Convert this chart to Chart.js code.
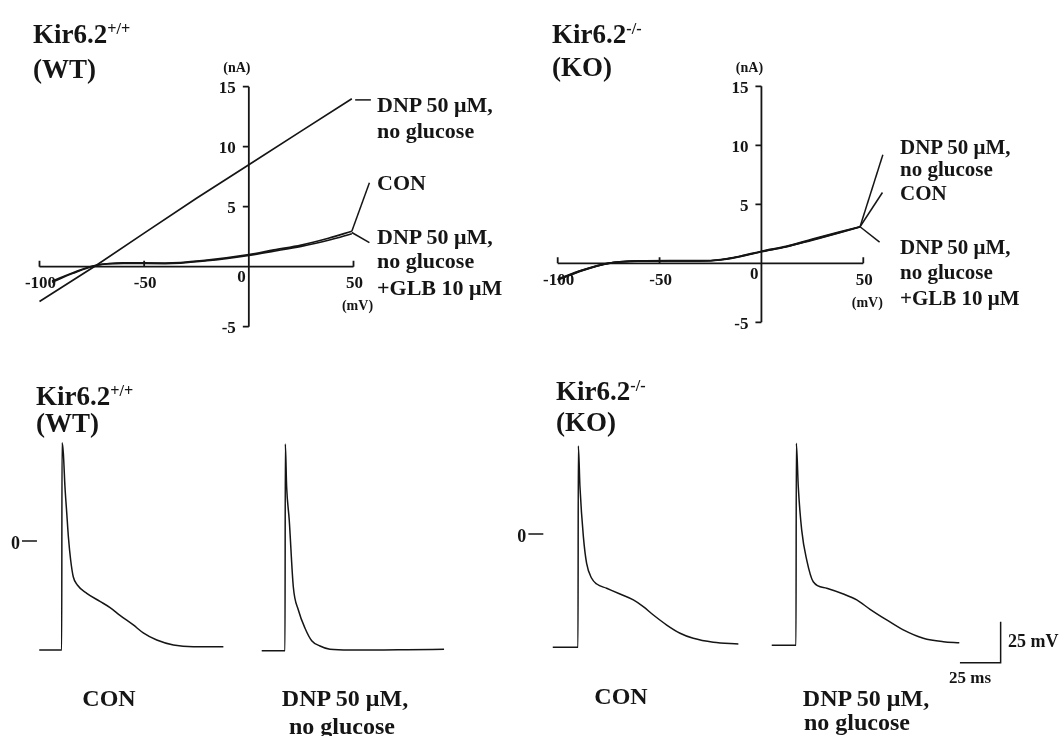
<!DOCTYPE html>
<html>
<head>
<meta charset="utf-8">
<script src="https://cdn.jsdelivr.net/npm/chart.js@4.4.1/dist/chart.umd.min.js"></script>
<style>
  body { margin: 0; background: #fff; }
  #fig { position: relative; width: 1064px; height: 736px; overflow: hidden; background: #fff; }
  #fig canvas { position: absolute; left: 0; top: 0; }
  .lbl {
    position: absolute; white-space: nowrap; line-height: 1; color: #151515;
    font-family: "Liberation Serif", "DejaVu Serif", serif; font-weight: bold;
    transform: translateY(-50%);
  }
  .lbl.mid { transform: translate(-50%, -50%); }
  .sup { font-size: 0.6em; vertical-align: 0.55em; line-height: 0; }
</style>
</head>
<body>
<div id="fig">
  <canvas id="iv_wt" width="1064" height="736"></canvas>
  <canvas id="iv_ko" width="1064" height="736"></canvas>
  <canvas id="ap_wt_con" width="1064" height="736"></canvas>
  <canvas id="ap_wt_dnp" width="1064" height="736"></canvas>
  <canvas id="ap_ko_con" width="1064" height="736"></canvas>
  <canvas id="ap_ko_dnp" width="1064" height="736"></canvas>
</div>
<script>
  // ---- I-V curves (membrane potential in mV, current in nA) ----
  const ivVoltsWtDnp = [-100, -73, -50, -25, 0, 25, 49.2]
  const ivWtDnp = [-2.9, 0.1, 2.8, 5.7, 8.5, 11.3, 14.0]

  const ivVoltsWt = [-94, -84, -73, -60, -40, -20, 0, 12, 25, 38, 49.2]
  const ivWtCon = [-1.3, -0.55, 0.1, 0.33, 0.3, 0.55, 1.0, 1.4, 1.8, 2.37, 2.95]
  const ivWtGlb = [-1.2, -0.5, 0.12, 0.28, 0.25, 0.5, 0.95, 1.3, 1.7, 2.2, 2.75]

  const ivVoltsKo = [-100, -88, -75, -60, -45, -30, -20, -10, 0, 12, 25, 38, 48.4]
  const ivKoCon = [-1.4, -0.6, 0, 0.18, 0.2, 0.2, 0.3, 0.6, 1.0, 1.4, 2.0, 2.6, 3.1]
  const ivKoDnp = [-1.4, -0.62, 0, 0.2, 0.22, 0.22, 0.32, 0.62, 1.02, 1.43, 2.05, 2.65, 3.1]
  const ivKoGlb = [-1.35, -0.58, 0.02, 0.18, 0.2, 0.2, 0.28, 0.58, 0.98, 1.38, 1.97, 2.57, 3.08]

  // label leader lines, [mV, nA]
  const leadWtDnp = [[50.8, 13.9], [58.3, 13.9]]
  const leadWtCon = [[49.2, 2.95], [57.6, 7.0]]
  const leadWtGlb = [[49.2, 2.85], [57.6, 2.0]]
  const leadKoDnp = [[48.4, 3.1], [59.6, 9.2]]
  const leadKoCon = [[48.4, 3.1], [59.4, 6.0]]
  const leadKoGlb = [[48.4, 3.1], [58.0, 1.8]]

  const ivXTicks = [-100, -50, 0, 50]
  const ivYTicks = [15, 10, 5, 0, -5]

  // ---- action potentials (time in ms from upstroke, voltage in mV) ----
  const wtConMs = [-13.8, 0, 0.2, 1.0, 2.0, 3.1, 4.1, 5.5, 7.1, 9.6, 15.4, 23.5, 29.7, 35.8, 44.0, 50.1, 58.4, 68.6, 80.8, 99.3]
  const wtConMv = [-66.5, -66.5, 59.9, 53.7, 33.1, 17.1, 2.6, -11.6, -21.8, -26.8, -31.9, -36.8, -40.6, -45.3, -51.2, -56.0, -60.4, -63.4, -64.5, -64.5]

  const wtDnpMs = [-14.3, 0, 0.2, 1.0, 2.6, 5.1, 8.2, 12.3, 16.4, 21.5, 27.6, 40, 54.2, 75, 97.7]
  const wtDnpMv = [-66.9, -66.9, 59.1, 33.1, 12.8, -27.9, -42.1, -53.2, -60.8, -64.0, -66.0, -66.5, -66.5, -66.3, -66.0]

  const koConMs = [-15.5, 0, 0.2, 1.2, 3.3, 5.3, 8.4, 11.5, 17.6, 25.8, 34.0, 40.1, 46.3, 54.5, 62.7, 70.8, 83.1, 98.5]
  const koConMv = [-69.1, -69.1, 53.7, 28.8, -1.6, -17.9, -27.0, -30.5, -33.1, -36.6, -40.2, -44.3, -49.4, -55.5, -60.5, -63.6, -66.0, -67.1]

  const koDnpMs = [-14.9, 0, 0.2, 1.4, 3.5, 6.6, 10.6, 18.9, 29.1, 37.3, 45.5, 55.7, 65.9, 78.2, 90.5, 100.3]
  const koDnpMv = [-67.9, -67.9, 55.3, 28.8, 2.4, -15.9, -29.1, -33.1, -36.6, -40.2, -45.9, -52.4, -58.5, -63.6, -65.7, -66.3]

  // 25 ms / 25 mV scale bar
  const scaleBarMs = [100.7, 125.7, 125.7]
  const scaleBarMv = [-78.5, -78.5, -53.5]

  const W = 1064, H = 736
  const INK = '#151515'
  const SERIF = '"Liberation Serif", "DejaVu Serif", serif'

  const zip = (xs, ys) => xs.map((x, i) => ({x: x, y: ys[i]}))
  const pairs = arr => arr.map(p => ({x: p[0], y: p[1]}))

  const curve = (data, width) => ({
    data: data, borderColor: INK, borderWidth: width || 1.7,
    pointRadius: 0, cubicInterpolationMode: 'monotone', fill: false, clip: false
  })
  const straight = (data, width) => ({
    data: data, borderColor: INK, borderWidth: width || 1.5,
    pointRadius: 0, tension: 0, fill: false, clip: false
  })

  // axes crossing at the origin, drawn from the chart's own scales
  const crossAxes = {
    id: 'crossAxes',
    beforeDatasetsDraw(chart, args, opts) {
      const {ctx} = chart
      const xs = chart.scales.x, ys = chart.scales.y
      const x0 = xs.getPixelForValue(0), y0 = ys.getPixelForValue(0)
      ctx.save()
      ctx.strokeStyle = INK
      ctx.lineWidth = 1.8
      ctx.beginPath()
      ctx.moveTo(xs.left, y0); ctx.lineTo(xs.right, y0)
      ctx.moveTo(x0, ys.top); ctx.lineTo(x0, ys.bottom)
      opts.xTicks.forEach(v => {
        const px = xs.getPixelForValue(v)
        ctx.moveTo(px, y0); ctx.lineTo(px, y0 - 6)
      })
      opts.yTicks.forEach(v => {
        const py = ys.getPixelForValue(v)
        ctx.moveTo(x0, py); ctx.lineTo(x0 - 6, py)
      })
      ctx.stroke()

      ctx.fillStyle = INK
      ctx.textBaseline = 'middle'
      ctx.font = 'bold 17px ' + SERIF
      ctx.textAlign = 'center'
      opts.xTicks.forEach(v => {
        if (v === 0) return
        ctx.fillText(String(v), xs.getPixelForValue(v) + 1, y0 + 17)
      })
      ctx.textAlign = 'right'
      ctx.fillText('0', x0 - 3, y0 + 11)
      opts.yTicks.forEach(v => {
        if (v === 0) return
        ctx.fillText(String(v), x0 - 13, ys.getPixelForValue(v) + 2)
      })
      ctx.textAlign = 'center'
      ctx.font = 'bold 14px ' + SERIF
      ctx.fillText('(nA)', x0 - 12, ys.top - 18)
      ctx.fillText('(mV)', xs.right + 4, y0 + 40)
      ctx.restore()
    }
  }

  // "0 —" marker beside the action potentials
  const zeroMark = {
    id: 'zeroMark',
    afterDraw(chart, args, opts) {
      const {ctx} = chart
      const xs = chart.scales.x, ys = chart.scales.y
      const py = ys.getPixelForValue(0)
      const x1 = xs.getPixelForValue(opts.from), x2 = xs.getPixelForValue(opts.to)
      ctx.save()
      ctx.strokeStyle = INK
      ctx.lineWidth = 1.5
      ctx.beginPath(); ctx.moveTo(x1, py); ctx.lineTo(x2, py); ctx.stroke()
      ctx.fillStyle = INK
      ctx.font = 'bold 18px ' + SERIF
      ctx.textAlign = 'right'
      ctx.textBaseline = 'middle'
      ctx.fillText('0', x1 - 2, py + 3)
      ctx.restore()
    }
  }

  const hiddenScale = (min, max) => ({type: 'linear', min: min, max: max, display: false})

  const ivChart = (canvasId, area, datasets) => new Chart(document.getElementById(canvasId), {
    type: 'line',
    data: {datasets: datasets},
    options: {
      responsive: false,
      animation: false,
      layout: {padding: {left: area[0], right: W - area[1], top: area[2], bottom: H - area[3]}},
      scales: {x: hiddenScale(-100, 50), y: hiddenScale(-5, 15)},
      plugins: {
        legend: {display: false},
        tooltip: {enabled: false},
        crossAxes: {xTicks: ivXTicks, yTicks: ivYTicks}
      }
    },
    plugins: [crossAxes]
  })

  // all traces share one calibration: 1.628 px per ms, 1.64 px per mV
  const PX_MS = 1.628, PX_MV = 1.64
  const AP_MS = [-30, 130], AP_MV = [-85, 70]

  const apChart = (canvasId, origin, datasets, zero) => new Chart(document.getElementById(canvasId), {
    type: 'line',
    data: {datasets: datasets},
    options: {
      responsive: false,
      animation: false,
      layout: {padding: {
        left: origin[0] + AP_MS[0] * PX_MS,
        right: W - (origin[0] + AP_MS[1] * PX_MS),
        top: origin[1] - AP_MV[1] * PX_MV,
        bottom: H - (origin[1] - AP_MV[0] * PX_MV)
      }},
      scales: {x: hiddenScale(AP_MS[0], AP_MS[1]), y: hiddenScale(AP_MV[0], AP_MV[1])},
      plugins: {legend: {display: false}, tooltip: {enabled: false}, zeroMark: zero}
    },
    plugins: [zeroMark]
  })

  ivChart('iv_wt', [39.5, 353.5, 86.7, 326.7], [
    straight(zip(ivVoltsWtDnp, ivWtDnp), 1.7),
    curve(zip(ivVoltsWt, ivWtCon)),
    curve(zip(ivVoltsWt, ivWtGlb)),
    straight(pairs(leadWtDnp)),
    straight(pairs(leadWtCon)),
    straight(pairs(leadWtGlb))
  ])

  ivChart('iv_ko', [557.7, 863.3, 86.3, 322.3], [
    curve(zip(ivVoltsKo, ivKoCon)),
    curve(zip(ivVoltsKo, ivKoDnp)),
    curve(zip(ivVoltsKo, ivKoGlb)),
    straight(pairs(leadKoDnp)),
    straight(pairs(leadKoCon)),
    straight(pairs(leadKoGlb))
  ])

  apChart('ap_wt_con', [61.7, 541], [curve(zip(wtConMs, wtConMv), 1.5)], {from: -24.4, to: -15.2})
  apChart('ap_wt_dnp', [285, 541], [curve(zip(wtDnpMs, wtDnpMv), 1.5)], false)
  apChart('ap_ko_con', [578, 534], [curve(zip(koConMs, koConMv), 1.5)], {from: -30.5, to: -21.3})
  apChart('ap_ko_dnp', [796, 534], [
    curve(zip(koDnpMs, koDnpMv), 1.5),
    straight(zip(scaleBarMs, scaleBarMv))
  ], false)

  // ---- text ----
  const labels = [
    ['Kir6.2<span class="sup">+/+</span>', 33, 34, 27],
    ['(WT)', 33, 69, 27],
    ['Kir6.2<span class="sup">-/-</span>', 552, 34, 27],
    ['(KO)', 552, 67, 27],
    ['DNP 50 μM,', 377, 105, 22],
    ['no glucose', 377, 131, 22],
    ['CON', 377, 182.5, 22],
    ['DNP 50 μM,', 377, 237, 22],
    ['no glucose', 377, 261, 22],
    ['+GLB 10 μM', 377, 288, 22],
    ['DNP 50 μM,', 900, 147, 21],
    ['no glucose', 900, 169, 21],
    ['CON', 900, 193, 21],
    ['DNP 50 μM,', 900, 247, 21],
    ['no glucose', 900, 272, 21],
    ['+GLB 10 μM', 900, 298, 21],
    ['Kir6.2<span class="sup">+/+</span>', 36, 396, 27],
    ['(WT)', 36, 423, 27],
    ['Kir6.2<span class="sup">-/-</span>', 556, 391, 27],
    ['(KO)', 556, 422, 27],
    ['CON', 109, 698, 24, 'mid'],
    ['DNP 50 μM,', 345, 698, 24, 'mid'],
    ['no glucose', 342, 726, 24, 'mid'],
    ['CON', 621, 696, 24, 'mid'],
    ['DNP 50 μM,', 866, 698, 24, 'mid'],
    ['no glucose', 857, 722, 24, 'mid'],
    ['25 mV', 1008, 641, 18],
    ['25 ms', 970, 677, 17, 'mid']
  ]
  const fig = document.getElementById('fig')
  labels.forEach(([html, x, y, size, cls]) => {
    const el = document.createElement('div')
    el.className = 'lbl' + (cls ? ' ' + cls : '')
    el.innerHTML = html
    el.style.left = x + 'px'
    el.style.top = y + 'px'
    el.style.fontSize = size + 'px'
    fig.appendChild(el)
  })
</script>
</body>
</html>
